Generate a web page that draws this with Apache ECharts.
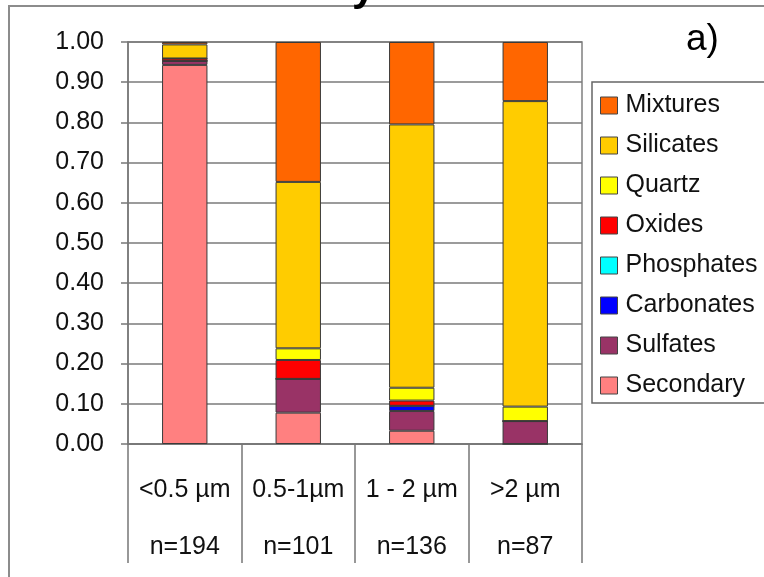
<!DOCTYPE html>
<html>
<head>
<meta charset="utf-8">
<script src="https://cdn.jsdelivr.net/npm/echarts@6/dist/echarts.min.js"></script>
<style>
html,body{margin:0;padding:0;background:#fff;}
#chart{width:764px;height:577px;}
</style>
</head>
<body>
<div id="chart"></div>
<script>
const categories = ['<0.5 µm', '0.5-1µm', '1 - 2 µm', '>2 µm'];
const nLabels = ['n=194', 'n=101', 'n=136', 'n=87'];
const yTicks = [0, 0.1, 0.2, 0.3, 0.4, 0.5, 0.6, 0.7, 0.8, 0.9, 1.0];

// stacked bottom -> top
const secondary  = [0.943, 0.078, 0.033, 0];
const sulfates   = [0.010, 0.084, 0.049, 0.057];
const carbonates = [0, 0, 0.013, 0];
const phosphates = [0, 0, 0, 0];
const oxides     = [0.006, 0.047, 0.013, 0];
const quartz     = [0, 0.029, 0.032, 0.036];
const silicates  = [0.035, 0.414, 0.655, 0.760];
const mixtures   = [0.006, 0.348, 0.205, 0.147];

const seriesNames = ['Secondary','Sulfates','Carbonates','Phosphates','Oxides','Quartz','Silicates','Mixtures'];
const seriesData = [secondary, sulfates, carbonates, phosphates, oxides, quartz, silicates, mixtures];
const seriesColors = ['#FF8080','#993366','#0000FF','#00FFFF','#FF0000','#FFFF00','#FFCC00','#FF6600'];
const legendOrder = ['Mixtures','Silicates','Quartz','Oxides','Phosphates','Carbonates','Sulfates','Secondary'];

const FONT = 'Liberation Sans';
const chart = echarts.init(document.getElementById('chart'), null, {renderer:'canvas'});
chart.setOption({
  animation: false,
  backgroundColor: '#fff',
  textStyle: {fontFamily: FONT},
  graphic: [
    {type:'rect', shape:{x:9, y:6, width:800, height:620}, style:{fill:'none', stroke:'#8c8c8c', lineWidth:2}, z:0},
    {type:'text', x:352, y:-33, style:{text:'y', font:'bold 42px "Liberation Sans"', fill:'#000'}},
    {type:'text', x:686, y:21, style:{text:'a)', font:'37px "Liberation Sans"', fill:'#000'}}
  ],
  grid: {left:128, top:42, width:454, height:402, show:true, borderColor:'#808080', borderWidth:1.5, backgroundColor:'transparent'},
  legend: {
    orient:'vertical', left:592, top:82,
    data: legendOrder,
    itemWidth:17, itemHeight:17, itemGap:15,
    padding:[11,8,5,8],
    borderColor:'#666', borderWidth:1.5,
    icon:'rect',
    textStyle:{fontSize:25, color:'#111', fontFamily:FONT, padding:[0,0,0,3]},
    itemStyle:{borderColor:'#444', borderWidth:1}
  },
  xAxis: {
    type:'category', data:categories, boundaryGap:true,
    axisLine:{show:true, lineStyle:{color:'#777', width:1.5}},
    axisTick:{show:true, interval:0, length:119, lineStyle:{color:'#777', width:1.5}},
    axisLabel:{
      interval:0,
      formatter:(v, i) => v + '\n' + nLabels[i],
      fontSize:25, lineHeight:57, color:'#111', margin:18, fontFamily:FONT, align:'center'
    },
    splitLine:{show:false}
  },
  yAxis: {
    type:'value', min:yTicks[0], max:yTicks[yTicks.length-1], interval:0.1,
    axisLine:{show:true, lineStyle:{color:'#777', width:1.5}},
    axisTick:{show:true, length:7, lineStyle:{color:'#777', width:1.5}},
    axisLabel:{formatter:v => v.toFixed(2), fontSize:25, color:'#111', margin:24, fontFamily:FONT},
    splitLine:{show:true, lineStyle:{color:'#7a7a7a', width:1.5}}
  },
  series: seriesNames.map((name, k) => ({
    name, type:'bar', stack:'total', data:seriesData[k], barWidth:'40%',
    itemStyle:{color:seriesColors[k], borderColor:'#3a3a3a', borderWidth:1}
  }))
});
</script>
</body>
</html>
